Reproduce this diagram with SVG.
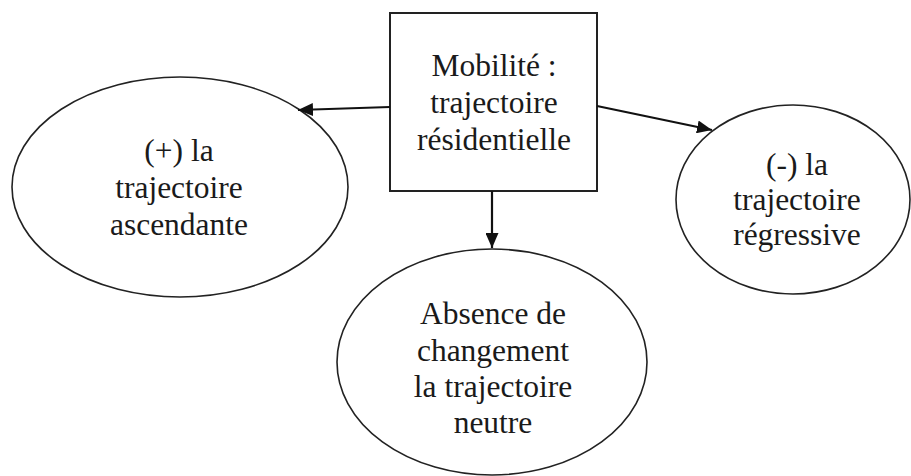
<svg xmlns="http://www.w3.org/2000/svg" width="911" height="476" viewBox="0 0 911 476">
<style>
.shape{fill:#fff;stroke:#222;stroke-width:1.6}
.box{fill:#fff;stroke:#222;stroke-width:2}
.t{font-family:"Liberation Serif","Times New Roman",serif;font-size:31.5px;fill:#1a1a1a;text-anchor:middle}
.c{stroke:#111;stroke-width:2.2;fill:none}
</style>
<defs>
<marker id="arr" viewBox="0 0 15 13" refX="15" refY="6.5" markerWidth="15" markerHeight="13" markerUnits="userSpaceOnUse" orient="auto">
<path d="M0,0 L15,6.5 L0,13 z" fill="#111"/>
</marker>
</defs>
<rect width="911" height="476" fill="#fff"/>
<g id="node-left">
<ellipse class="shape" cx="180" cy="187" rx="168" ry="110"/>
<text class="t" x="179" y="161">(+) la</text>
<text class="t" x="179" y="198">trajectoire</text>
<text class="t" x="179" y="235">ascendante</text>
</g>
<g id="node-right">
<ellipse class="shape" cx="793" cy="199.5" rx="117" ry="94.5"/>
<text class="t" x="797" y="175">(-) la</text>
<text class="t" x="797" y="210">trajectoire</text>
<text class="t" x="797" y="245">régressive</text>
</g>
<g id="node-bottom">
<ellipse class="shape" cx="492" cy="362" rx="155" ry="113"/>
<text class="t" x="493" y="324">Absence de</text>
<text class="t" x="493" y="361">changement</text>
<text class="t" x="493" y="397">la trajectoire</text>
<text class="t" x="493" y="433">neutre</text>
</g>
<g id="node-center">
<rect class="box" x="390" y="13" width="207" height="178"/>
<text class="t" x="494" y="76">Mobilité :</text>
<text class="t" x="494" y="113">trajectoire</text>
<text class="t" x="494" y="150">résidentielle</text>
</g>
<g id="connectors">
<line class="c" x1="390" y1="107" x2="298" y2="110" marker-end="url(#arr)"/>
<line class="c" x1="597" y1="106" x2="712" y2="130" marker-end="url(#arr)"/>
<line class="c" x1="492" y1="191" x2="492" y2="248" marker-end="url(#arr)"/>
</g>
</svg>
